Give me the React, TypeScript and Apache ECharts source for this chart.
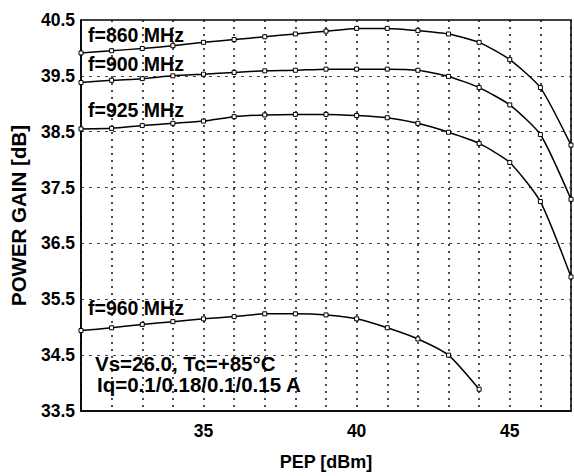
import React, { useEffect, useRef } from "react";
import * as echarts from "echarts";

const pep = [31, 32, 33, 34, 35, 36, 37, 38, 39, 40, 41, 42, 43, 44, 45, 46, 47];
const gain860 = [39.91, 39.95, 39.99, 40.04, 40.1, 40.15, 40.2, 40.25, 40.3, 40.35, 40.35, 40.31, 40.25, 40.1, 39.79, 39.29, 38.26];
const gain900 = [39.38, 39.42, 39.45, 39.5, 39.53, 39.56, 39.59, 39.6, 39.62, 39.62, 39.62, 39.6, 39.49, 39.29, 38.98, 38.45, 37.29];
const gain925 = [38.55, 38.56, 38.61, 38.65, 38.69, 38.77, 38.8, 38.81, 38.81, 38.79, 38.75, 38.65, 38.49, 38.29, 37.95, 37.25, 35.9];
const pep960 = [31, 32, 33, 34, 35, 36, 37, 38, 39, 40, 41, 42, 43, 44];
const gain960 = [34.94, 34.99, 35.05, 35.1, 35.15, 35.19, 35.24, 35.24, 35.22, 35.15, 34.99, 34.79, 34.5, 33.89];
const xLabels = ["35", "40", "45"];
const curveLabels = ["f=860 MHz", "f=900 MHz", "f=925 MHz", "f=960 MHz"];
const noteLines = ["Vs=26.0, Tc=+85°C", "Iq=0.1/0.18/0.1/0.15 A"];

const pairs = (xs: number[], ys: number[]) => ys.map((y, i) => [xs[i], y]);

export default function App() {
  const ref = useRef<HTMLDivElement>(null);
  useEffect(() => {
    if (!ref.current) return;
    const chart = echarts.init(ref.current, null, { renderer: "svg" });
    const mk = (name: string, data: number[][]) => ({
      name,
      type: "line",
      data,
      smooth: 0.2,
      symbol: "rect",
      symbolSize: 4,
      showSymbol: true,
      lineStyle: { color: "#000", width: 1.5 },
      itemStyle: { color: "#fff", borderColor: "#000", borderWidth: 1 },
      z: 3,
    });
    const annFont = {
      fontFamily: "Liberation Sans",
      fontWeight: "bold",
      fill: "#000",
      align: "left",
      verticalAlign: "middle",
    };
    const txt = (text: string, x: number, y: number, size: number) => ({
      type: "text",
      x,
      y,
      z: 10,
      style: { ...annFont, fontSize: size, text },
    });
    chart.setOption({
      animation: false,
      backgroundColor: "#fff",
      grid: {
        left: 76,
        top: 20,
        right: 3,
        bottom: 63,
        show: true,
        borderColor: "#000",
        borderWidth: 1.5,
        backgroundColor: "transparent",
      },
      xAxis: {
        type: "value",
        min: 31,
        max: 47,
        interval: 1,
        name: "PEP [dBm]",
        nameLocation: "middle",
        nameGap: 42,
        nameTextStyle: { fontFamily: "Liberation Sans", fontWeight: "bold", fontSize: 18, color: "#000" },
        axisLine: { show: true, lineStyle: { color: "#000", width: 1.5 } },
        axisTick: { show: false },
        axisLabel: {
          margin: 11,
          fontFamily: "Liberation Sans",
          fontWeight: "bold",
          fontSize: 17.5,
          color: "#000",
          formatter: (v: number) => (xLabels.includes(String(v)) ? String(v) : ""),
        },
        splitLine: { show: true, lineStyle: { color: "#111", width: 1.5, type: [2, 5] } },
      },
      yAxis: {
        type: "value",
        min: 33.5,
        max: 40.5,
        interval: 1,
        name: "POWER GAIN [dB]",
        nameLocation: "middle",
        nameGap: 52,
        nameTextStyle: { fontFamily: "Liberation Sans", fontWeight: "bold", fontSize: 20.5, color: "#000" },
        axisLine: { show: true, lineStyle: { color: "#000", width: 1.5 } },
        axisTick: { show: false },
        axisLabel: {
          margin: 6,
          fontFamily: "Liberation Sans",
          fontWeight: "bold",
          fontSize: 17.5,
          color: "#000",
          formatter: (v: number) => v.toFixed(1),
        },
        splitLine: { show: true, lineStyle: { color: "#444", width: 1.2, type: [3, 5] } },
      },
      series: [
        mk("860", pairs(pep, gain860)),
        mk("900", pairs(pep, gain900)),
        mk("925", pairs(pep, gain925)),
        mk("960", pairs(pep960, gain960)),
      ],
      graphic: [
        txt(curveLabels[0], 88, 35, 19.5),
        txt(curveLabels[1], 88, 64, 19.5),
        txt(curveLabels[2], 88, 110, 19.5),
        txt(curveLabels[3], 88, 308, 19.5),
        txt(noteLines[0], 95, 363, 20.5),
        txt(noteLines[1], 97, 384, 20.5),
      ],
    });
    return () => chart.dispose();
  }, []);
  return <div ref={ref} style={{ width: 574, height: 476, position: "absolute", left: 0, top: 0 }} />;
}
